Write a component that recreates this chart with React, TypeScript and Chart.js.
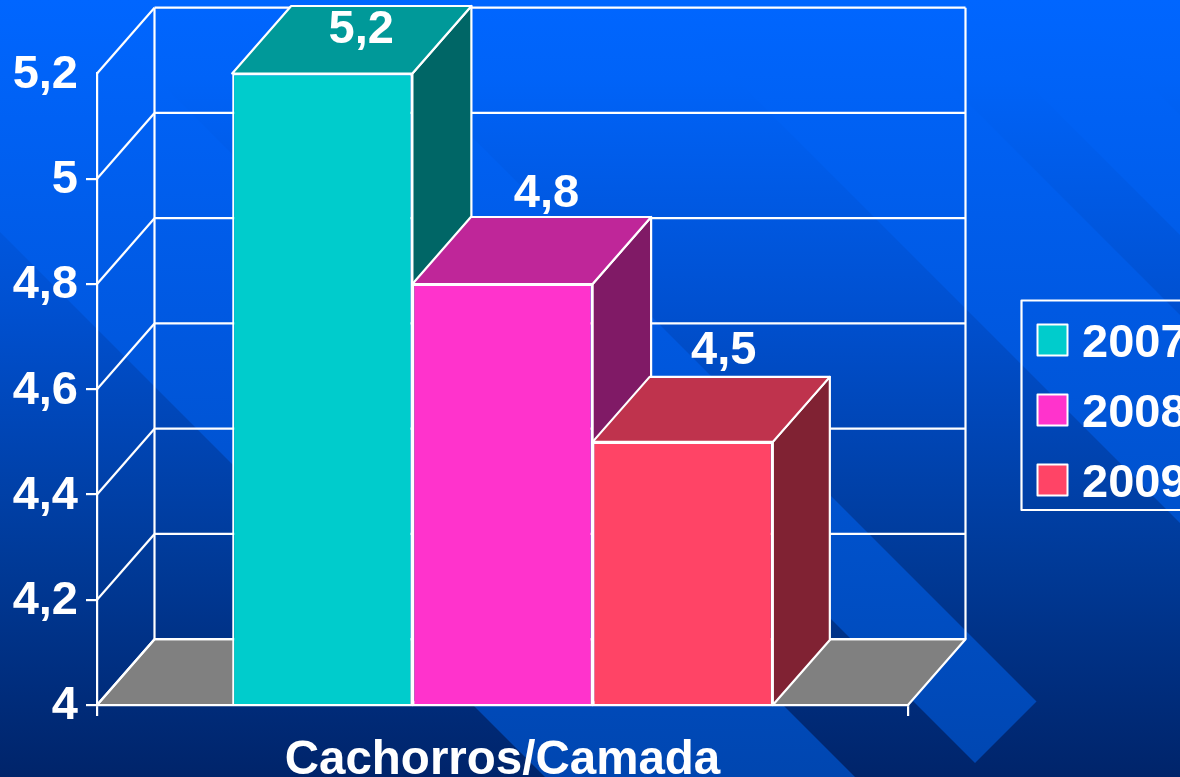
import React, { useEffect, useRef } from "react";
import { Chart, registerables } from "chart.js";

Chart.register(...registerables);

const categories = ["Cachorros/Camada"];
const seriesNames = ["2007", "2008", "2009"];
const series2007 = [5.2];
const series2008 = [4.8];
const series2009 = [4.5];
const axisMin = 4;
const axisMax = 5.2;
const axisStep = 0.2;
const frontColors = ["#00CCCC", "#FF33CC", "#FF4466"];
const topColors = ["#009999", "#BF2699", "#BF334D"];
const sideColors = ["#006666", "#801A66", "#802233"];
const valueLabels = ["5,2", "4,8", "4,5"];
const labelShift = [39, 44, 41];

const W = 1180;
const H = 777;
const FONT = "bold 47px 'Liberation Sans', Arial, sans-serif";
const DX = 57.5;
const DY = -65.8;
const BAR_DX = [59, 58.5, 57];
const BAR_DY = [-67.5, -67, -65];
const LINE = 2.2;

function poly(ctx: CanvasRenderingContext2D, pts: number[][], fill?: string, stroke = true) {
  ctx.beginPath();
  pts.forEach((p, i) => (i ? ctx.lineTo(p[0], p[1]) : ctx.moveTo(p[0], p[1])));
  ctx.closePath();
  if (fill) {
    ctx.fillStyle = fill;
    ctx.fill();
  }
  if (stroke) {
    ctx.strokeStyle = "#fff";
    ctx.lineWidth = LINE;
    ctx.lineJoin = "round";
    ctx.stroke();
  }
}

function line(ctx: CanvasRenderingContext2D, a: number[], b: number[]) {
  ctx.beginPath();
  ctx.moveTo(a[0], a[1]);
  ctx.lineTo(b[0], b[1]);
  ctx.strokeStyle = "#fff";
  ctx.lineWidth = LINE;
  ctx.stroke();
}

function gradient(ctx: CanvasRenderingContext2D, stops: [number, string][]) {
  const g = ctx.createLinearGradient(0, 0, 0, H);
  stops.forEach(([o, c]) => g.addColorStop(o, c));
  return g;
}

const backdrop = {
  id: "backdrop",
  beforeDraw(chart: any) {
    const ctx: CanvasRenderingContext2D = chart.ctx;
    ctx.save();
    ctx.fillStyle = gradient(ctx, [
      [0, "#0066FF"],
      [0.1, "#0063F8"],
      [0.4, "#0050D0"],
      [0.72, "#003A98"],
      [1, "#00246A"],
    ]);
    ctx.fillRect(0, 0, W, H);
    const light = gradient(ctx, [
      [0, "#0066FF"],
      [0.4, "#0059E2"],
      [0.72, "#0050C8"],
      [1, "#0046B0"],
    ]);
    const bands: [number, number, number | null][] = [
      [-232, 78, null],
      [212, 335, 1738],
      [657, 865, null],
      [945, 1065, null],
    ];
    for (const [a, b, end] of bands) {
      const pts =
        end === null
          ? [[a, 0], [b, 0], [b + H, H], [a + H, H]]
          : [[a, 0], [b, 0], [(b + end) / 2, (end - b) / 2], [(a + end) / 2, (end - a) / 2]];
      poly(ctx, pts, light as any, false);
    }
    ctx.restore();
  },
};

const threeD = {
  id: "threeD",
  beforeDatasetsDraw(chart: any) {
    const ctx: CanvasRenderingContext2D = chart.ctx;
    const { left, right } = chart.chartArea;
    const y = chart.scales.y;
    const base = y.getPixelForValue(axisMin);
    ctx.save();
    poly(ctx, [[left, base], [right, base], [right + DX, base + DY], [left + DX, base + DY]], "#808080");
    for (const t of y.ticks) {
      const py = y.getPixelForValue(t.value);
      line(ctx, [left, py], [left + DX, py + DY]);
      line(ctx, [left + DX, py + DY], [right + DX, py + DY]);
    }
    const topY = y.getPixelForValue(axisMax) + DY;
    line(ctx, [left + DX, topY], [left + DX, base + DY]);
    line(ctx, [right + DX, topY], [right + DX, base + DY]);
    ctx.restore();
  },
  beforeDatasetDraw() {
    return false;
  },
  afterDatasetsDraw(chart: any) {
    const ctx: CanvasRenderingContext2D = chart.ctx;
    const y = chart.scales.y;
    const base = y.getPixelForValue(axisMin);
    ctx.save();
    seriesNames.forEach((_, i) => {
      const meta = chart.getDatasetMeta(i);
      meta.controller.draw();
      const dx = BAR_DX[i];
      const dy = BAR_DY[i];
      meta.data.forEach((bar: any) => {
        const half = bar.width / 2;
        const l = bar.x - half;
        const r = bar.x + half;
        const t = bar.y;
        poly(ctx, [[r, t], [r + dx, t + dy], [r + dx, base + dy], [r, base]], sideColors[i]);
        poly(ctx, [[l, t], [l + dx, t + dy], [r + dx, t + dy], [r, t]], topColors[i]);
      });
    });
    ctx.font = FONT;
    ctx.fillStyle = "#fff";
    ctx.textAlign = "center";
    ctx.textBaseline = "alphabetic";
    seriesNames.forEach((_, i) => {
      chart.getDatasetMeta(i).data.forEach((bar: any) => {
        ctx.fillText(valueLabels[i], bar.x + labelShift[i], Math.max(bar.y - 77.5, 43));
      });
    });
    ctx.restore();
  },
};

const boxLegend = {
  id: "boxLegend",
  afterDraw(chart: any) {
    const ctx: CanvasRenderingContext2D = chart.ctx;
    ctx.save();
    poly(ctx, [[1021.5, 300.5], [1200, 300.5], [1200, 510], [1021.5, 510]]);
    ctx.font = FONT;
    ctx.textAlign = "left";
    ctx.textBaseline = "alphabetic";
    chart.data.datasets.forEach((d: any, i: number) => {
      const top = 324.5 + i * 70;
      ctx.fillStyle = d.backgroundColor;
      ctx.fillRect(1037.5, top, 30, 31);
      ctx.strokeStyle = "#fff";
      ctx.lineWidth = 2;
      ctx.strokeRect(1037.5, top, 30, 31);
      ctx.fillStyle = "#fff";
      ctx.fillText(d.label, 1082, 357 + i * 70);
    });
    ctx.restore();
  },
};

export default function App() {
  const ref = useRef<HTMLCanvasElement>(null);
  useEffect(() => {
    const values = [series2007, series2008, series2009];
    const chart = new Chart(ref.current!, {
      type: "bar",
      data: {
        labels: categories,
        datasets: seriesNames.map((label, i) => ({
          label,
          data: values[i],
          base: axisMin,
          backgroundColor: frontColors[i],
          borderColor: "#fff",
          borderWidth: 2,
          categoryPercentage: 2 / 3,
          barPercentage: 1,
        })),
      },
      options: {
        animation: false,
        responsive: false,
        layout: { padding: { top: 73.5, right: 272, left: 0, bottom: 0 } },
        plugins: { legend: { display: false }, tooltip: { enabled: false }, title: { display: false } },
        scales: {
          x: {
            afterFit: (s: any) => {
              s.height = 72;
            },
            border: { display: true, color: "#fff", width: LINE },
            grid: { drawOnChartArea: false, drawTicks: true, tickLength: 11, color: "#fff", lineWidth: LINE },
            ticks: { color: "#fff", font: { family: "'Liberation Sans', Arial, sans-serif", size: 47.5, weight: "bold" }, padding: 16, maxRotation: 0 },
          },
          y: {
            min: axisMin,
            max: axisMax,
            afterFit: (s: any) => {
              s.width = 97;
            },
            border: { display: true, color: "#fff", width: LINE },
            grid: {
              drawOnChartArea: false,
              drawTicks: true,
              tickLength: 11,
              lineWidth: LINE,
              tickColor: (c: any) => (c.tick && c.tick.value > 5.19 ? "rgba(0,0,0,0)" : "#fff"),
            },
            ticks: {
              stepSize: axisStep,
              color: "#fff",
              padding: 8,
              labelOffset: 1.5,
              font: { family: "'Liberation Sans', Arial, sans-serif", size: 47, weight: "bold" },
              callback: (v: any) => String(Math.round(Number(v) * 10) / 10).replace(".", ","),
            },
          },
        },
      },
      plugins: [backdrop, threeD, boxLegend],
    } as any);
    return () => chart.destroy();
  }, []);
  return (
    <div style={{ position: "absolute", left: 0, top: 0, width: W, height: H, overflow: "hidden" }}>
      <canvas ref={ref} width={W} height={H} style={{ display: "block" }} />
    </div>
  );
}
